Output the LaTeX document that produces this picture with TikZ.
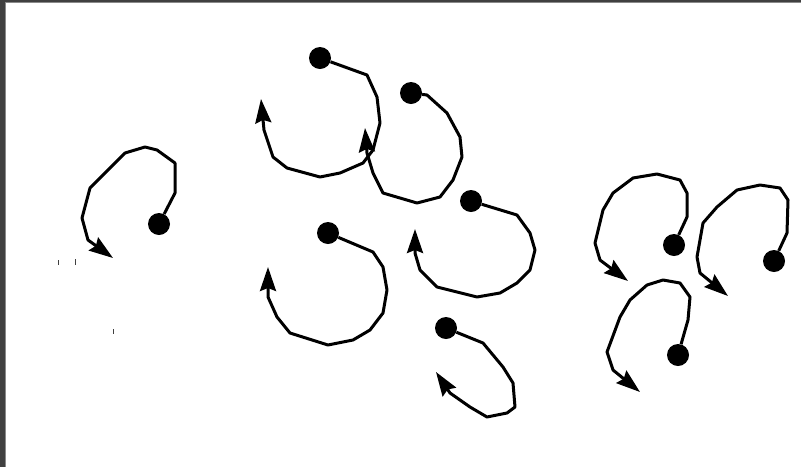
\documentclass[tikz,border=0pt]{standalone}
\usepackage{tikz}
\usetikzlibrary{arrows.meta}
\definecolor{framegray}{HTML}{404040}
\definecolor{edgegray}{HTML}{8A8A8A}

\begin{document}
\begin{tikzpicture}[x=1pt,y=-1pt,
    dot/.style={circle,fill=black,inner sep=0pt,minimum size=22pt},
    curl/.style={line width=3pt,line join=round,-{Stealth[length=24pt,width=16pt,inset=3pt]}},
    tick/.style={framegray,line width=1pt}]
    \useasboundingbox (0,0) rectangle (801,467);
    \fill[framegray] (0,0) rectangle (5,467);
    \fill[framegray] (0,0) rectangle (801,2);
    \fill[edgegray] (5,2) rectangle (6,467);
    \fill[edgegray] (5,2) rectangle (801,3);

    % spinning particles
    \node[dot] (d1) at (159,224) {};
    \node[dot] (d2) at (320,58) {};
    \node[dot] (d3) at (411,93) {};
    \node[dot] (d4) at (328,233) {};
    \node[dot] (d5) at (471,201) {};
    \node[dot] (d6) at (446,328) {};
    \node[dot] (d7) at (674,245) {};
    \node[dot] (d8) at (774,261) {};
    \node[dot] (d9) at (678,355) {};

    \coordinate (a1) at (113,258);
    \coordinate (a2) at (261,99);
    \coordinate (a3) at (365,128);
    \coordinate (a4) at (268,267);
    \coordinate (a5) at (415,229);
    \coordinate (a6) at (436,372);
    \coordinate (a7) at (628,281);
    \coordinate (a8) at (728,296);
    \coordinate (a9) at (640,392);

    \draw[curl] (d1) -- (175,193) -- (175,163) -- (157,150) -- (145,147) -- (125,153)
      -- (100,178) -- (90,188) -- (82,218) -- (88,240) -- (a1);
    \draw[curl] (d2) -- (367,75) -- (377,97) -- (380,123) -- (373,150) -- (363,163)
      -- (340,173) -- (320,177) -- (287,168) -- (273,157) -- (264,130) -- (a2);
    \draw[curl] (d3) -- (427,95) -- (447,113) -- (460,137) -- (462,157) -- (453,180)
      -- (440,197) -- (417,203) -- (383,193) -- (373,173) -- (367,153) -- (a3);
    \draw[curl] (d4) -- (373,252) -- (383,267) -- (387,290) -- (383,313) -- (370,330)
      -- (353,340) -- (328,345) -- (290,333) -- (277,317) -- (268,297) -- (a4);
    \draw[curl] (d5) -- (517,215) -- (530,233) -- (535,250) -- (530,270) -- (517,283)
      -- (500,293) -- (477,297) -- (437,287) -- (420,270) -- (415,253) -- (a5);
    \draw[curl] (d6) -- (483,343) -- (503,367) -- (513,383) -- (515,407) -- (507,413)
      -- (487,417) -- (470,407) -- (450,393) -- (a6);
    \draw[curl] (d7) -- (687,217) -- (687,193) -- (680,180) -- (657,174) -- (633,178)
      -- (613,193) -- (603,210) -- (595,243) -- (600,260) -- (a7);
    \draw[curl] (d8) -- (787,233) -- (788,200) -- (780,188) -- (760,185) -- (737,190)
      -- (717,207) -- (703,223) -- (697,257) -- (700,273) -- (a8);
    \draw[curl] (d9) -- (688,320) -- (690,297) -- (680,283) -- (663,280) -- (647,285)
      -- (630,300) -- (620,317) -- (607,352) -- (613,370) -- (a9);

    % stray marks
    \draw[tick] (58,260) -- (58,265);
    \draw[tick] (75,259) -- (75,265);
    \draw[tick] (113,329) -- (113,334);
\end{tikzpicture}
\end{document}
